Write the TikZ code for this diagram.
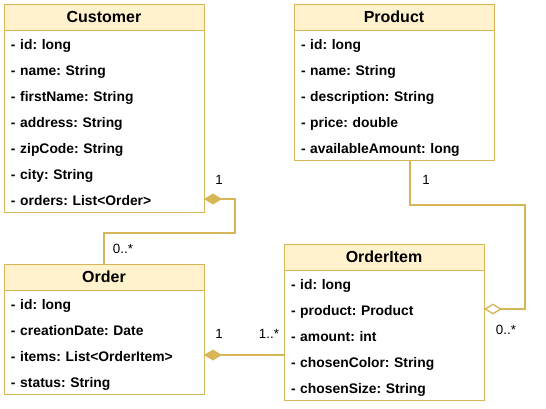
\documentclass[tikz,border=0pt]{standalone}
\usepackage{fontspec}
\setmainfont{Liberation Sans}
\usetikzlibrary{positioning,arrows.meta}

\definecolor{headfill}{HTML}{FFF2CC}
\definecolor{boxline}{HTML}{D6B656}
\frenchspacing

\begin{document}
\begin{tikzpicture}[x=0.75pt, y=-0.75pt, node distance=0pt,
  head/.style={draw=boxline, fill=headfill, line width=0.75pt, minimum width=150pt, minimum height=19.5pt, inner sep=0pt, outer sep=0pt, font=\bfseries\fontsize{12}{14}\selectfont},
  attr/.style={text width=139.5pt, inner xsep=5.25pt, inner ysep=0pt, outer sep=0pt, minimum height=19.5pt, text height=11pt, text depth=1.6pt, align=left, font=\bfseries\fontsize{10.4}{12}\selectfont},
  body/.style={draw=boxline, line width=0.75pt},
  link/.style={draw=boxline, line width=1.5pt},
  comp/.style={link, -{Diamond[length=13.5pt, width=8.25pt]}},
  aggr/.style={link, -{Diamond[open, length=13.5pt, width=8.25pt, line width=1pt, fill=white]}},
  card/.style={font=\fontsize{10}{12}\selectfont, inner sep=0pt}]
  \useasboundingbox (0,0) rectangle (546,408);

  % Customer
  \node[head, anchor=north west] at (4,4) (cust)   {Customer};
  \node[attr, below=of cust]     (cust-1) {- id: long};
  \node[attr, below=of cust-1]   (cust-2) {- name: String};
  \node[attr, below=of cust-2]   (cust-3) {- firstName: String};
  \node[attr, below=of cust-3]   (cust-4) {- address: String};
  \node[attr, below=of cust-4]   (cust-5) {- zipCode: String};
  \node[attr, below=of cust-5]   (cust-6) {- city: String};
  \node[attr, below=of cust-6]   (cust-7) {- orders: List<Order>};
  \draw[body] (cust.south west) rectangle (cust-7.south east);

  % Product
  \node[head, anchor=north west] at (294,4) (prod) {Product};
  \node[attr, below=of prod]     (prod-1) {- id: long};
  \node[attr, below=of prod-1]   (prod-2) {- name: String};
  \node[attr, below=of prod-2]   (prod-3) {- description: String};
  \node[attr, below=of prod-3]   (prod-4) {- price: double};
  \node[attr, below=of prod-4]   (prod-5) {- availableAmount: long};
  \draw[body] (prod.south west) rectangle (prod-5.south east);

  % Order
  \node[head, anchor=north west] at (4,264) (ord) {Order};
  \node[attr, below=of ord]      (ord-1) {- id: long};
  \node[attr, below=of ord-1]    (ord-2) {- creationDate: Date};
  \node[attr, below=of ord-2]    (ord-3) {- items: List<OrderItem>};
  \node[attr, below=of ord-3]    (ord-4) {- status: String};
  \draw[body] (ord.south west) rectangle (ord-4.south east);

  % OrderItem
  \node[head, anchor=north west] at (284,244) (item) {OrderItem};
  \node[attr, below=of item]     (item-1) {- id: long};
  \node[attr, below=of item-1]   (item-2) {- product: Product};
  \node[attr, below=of item-2]   (item-3) {- amount: int};
  \node[attr, below=of item-3]   (item-4) {- chosenColor: String};
  \node[attr, below=of item-4]   (item-5) {- chosenSize: String};
  \draw[body] (item.south west) rectangle (item-5.south east);

  % connectors
  \coordinate (bend1) at (235,233);
  \coordinate (bend2) at (525,205);
  \draw[comp] (ord.north) |- (bend1) |- (cust-7.east);
  \draw[aggr] ([xshift=12pt]prod-5.south) |- (bend2) |- (item-2.east);
  \draw[comp] (ord-3.east -| item-1.west) -- (ord-3.east);

  % multiplicities
  \node[card] at (219,180) (m-cust)  {1};
  \node[card] at (123,249) (m-ord)   {0..*};
  \node[card] at (426,180) (m-prod)  {1};
  \node[card] at (506,330) (m-item)  {0..*};
  \node[card] at (219,334) (m-ord2)  {1};
  \node[card] at (269,334) (m-item2) {1..*};
\end{tikzpicture}
\end{document}
